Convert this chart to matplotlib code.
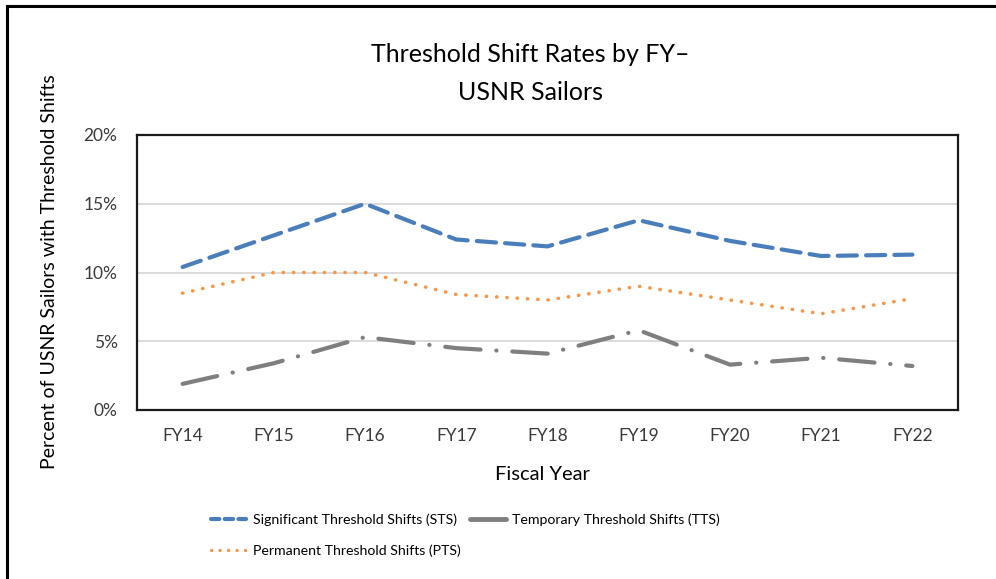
import matplotlib
matplotlib.use('Agg')
import matplotlib.pyplot as plt
from matplotlib.lines import Line2D

plt.rcParams['font.family'] = ['Lato', 'DejaVu Sans']

# data (percent)
years = ['FY14', 'FY15', 'FY16', 'FY17', 'FY18', 'FY19', 'FY20', 'FY21', 'FY22']
sts = [10.4, 12.7, 15.0, 12.4, 11.9, 13.8, 12.3, 11.2, 11.3]
pts = [8.5, 10.0, 10.0, 8.4, 8.0, 9.0, 8.0, 7.0, 8.1]
tts = [1.9, 3.4, 5.3, 4.5, 4.1, 5.8, 3.3, 3.8, 3.2]
yticks = [0, 5, 10, 15, 20]

blue = '#4a7ebb'
orange = '#f79646'
gray = '#7f7f7f'

fig = plt.figure(figsize=(9.96, 5.79), dpi=100)
ax = fig.add_axes([137 / 996, 1 - 410 / 579, 821 / 996, 275 / 579])

x = range(len(years))
ax.plot(x, sts, color=blue, lw=3, dashes=(4.6, 2.2), dash_capstyle='round', zorder=3)
ax.plot(x, pts, color=orange, lw=2.6, dashes=(0.05, 2.8), dash_capstyle='round', zorder=3)
ax.plot(x, tts, color=gray, lw=3, dashes=(8.5, 3.8, 0.05, 3.8), dash_capstyle='round', zorder=3)

ax.set_xlim(-0.5, len(years) - 0.5)
ax.set_ylim(0, 20)
ax.set_xticks(list(x))
ax.set_xticklabels(years)
ax.set_yticks(yticks)
ax.set_yticklabels([f'{v}%' for v in yticks])
ax.tick_params(length=0, labelsize=12.5, colors='#3a3a3a')
ax.tick_params(axis='x', pad=13)
ax.tick_params(axis='y', pad=14)
ax.grid(axis='y', color='#d9d9d9', lw=1.3)
ax.set_axisbelow(True)
for s in ax.spines.values():
    s.set_color('#1a1a1a')
    s.set_linewidth(1.6)

# titles and axis labels
fig.text(530 / 996, 1 - 55 / 579, 'Threshold Shift Rates by FY\u2013', ha='center', va='center',
         fontsize=18, color='black')
fig.text(530 / 996, 1 - 92 / 579, 'USNR Sailors', ha='center', va='center',
         fontsize=18, color='black')
fig.text(50 / 996, 1 - 272 / 579, 'Percent of USNR Sailors with Threshold Shifts', rotation=90,
         ha='center', va='center', fontsize=14, color='black')
fig.text(542 / 996, 1 - 475 / 579, 'Fiscal Year', ha='center', va='center',
         fontsize=14.5, color='black')

# legend (TTS sample is drawn solid, as in the reference)
handles = [
    Line2D([], [], color=blue, lw=3, dashes=(2.0, 1.3), dash_capstyle='round'),
    Line2D([], [], color=orange, lw=2.4, dashes=(0.05, 2.5), dash_capstyle='round'),
    Line2D([], [], color=gray, lw=3.5, solid_capstyle='round'),
]
labels = ['Significant Threshold Shifts (STS)', 'Permanent Threshold Shifts (PTS)',
          'Temporary Threshold Shifts (TTS)']
leg = fig.legend(handles, labels, ncol=2, loc='upper left',
                 bbox_to_anchor=(198 / 996, 1 - 501 / 579), frameon=False,
                 fontsize=10.2, handlelength=2.5, handletextpad=0.45,
                 columnspacing=0.7, labelspacing=1.3, labelcolor='black')

# outer frame of the chart (left and top edges visible)
fig.add_artist(Line2D([7 / 996, 7 / 996], [0, 1 - 6 / 579], color='black', lw=2.2,
                      transform=fig.transFigure))
fig.add_artist(Line2D([7 / 996, 1], [1 - 6 / 579, 1 - 6 / 579], color='black', lw=2.2,
                      transform=fig.transFigure))

fig.savefig('out.png', dpi=100)
